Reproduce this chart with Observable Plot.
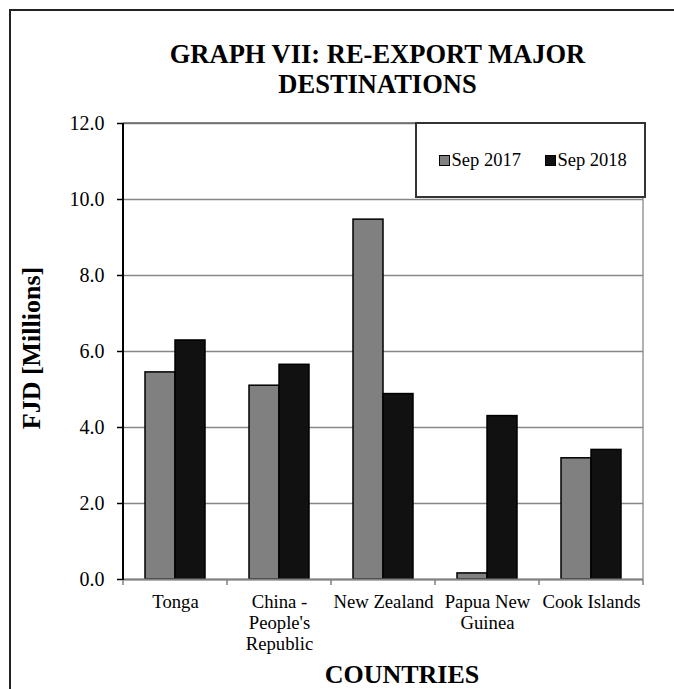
<!DOCTYPE html>
<html>
<head>
<meta charset="utf-8">
<script src="https://cdn.jsdelivr.net/npm/d3@7"></script>
<script src="https://cdn.jsdelivr.net/npm/@observablehq/plot@0.6"></script>
<style>
  html, body { margin: 0; padding: 0; background: #fff; }
  #chart { position: relative; width: 674px; height: 689px; overflow: hidden;
           font-family: "Liberation Serif", "Times New Roman", serif; color: #000; }
  #frame { position: absolute; left: 9px; top: 9px; width: 720px; height: 720px;
           border: 2px solid #222; box-sizing: border-box; }
  #title { position: absolute; left: 80px; width: 595px; top: 38.5px; text-align: center;
           font-weight: bold; font-size: 26.5px; line-height: 30px; }
  #plot { position: absolute; left: 0; top: 0; }
  #legend { position: absolute; left: 415px; top: 122px; width: 231px; height: 76px;
            border: 2px solid #333; box-sizing: border-box; background: #fff;
            display: flex; align-items: center; padding-left: 22px; font-size: 18.5px; }
  .item { display: flex; align-items: center; }
  .item + .item { margin-left: 24px; }
  .sw { width: 9px; height: 9px; border: 1.5px solid #000; margin-right: 1.5px; }
</style>
</head>
<body>
<div id="chart">
  <div id="frame"></div>
  <div id="title">GRAPH VII: RE-EXPORT MAJOR<br>DESTINATIONS</div>
  <div id="plot"></div>
  <div id="legend"></div>
</div>
<script>
// Re-export destinations, FJD millions
const countries = ["Tonga", "China - People's Republic", "New Zealand", "Papua New Guinea", "Cook Islands"];
const countryLabels = ["Tonga", "China -\nPeople's\nRepublic", "New Zealand", "Papua New\nGuinea", "Cook Islands"];
const periods = ["Sep 2017", "Sep 2018"];
const sep2017 = [5.45, 5.10, 9.47, 0.16, 3.19];
const sep2018 = [6.29, 5.65, 4.88, 4.30, 3.41];
const periodColors = ["#808080", "#111111"];
const yTicks = [0, 2, 4, 6, 8, 10, 12];

const rows = countries.flatMap((c, i) => [
  {country: c, period: periods[0], value: sep2017[i]},
  {country: c, period: periods[1], value: sep2018[i]}
]);
const labelOf = new Map(countries.map((c, i) => [c, countryLabels[i]]));

const W = 674, H = 689;
const chart = Plot.plot({
  width: W,
  height: H,
  marginTop: 123,
  marginBottom: 110,
  marginLeft: 121,
  marginRight: 29.5,
  style: {fontFamily: "'Liberation Serif', 'Times New Roman', serif", background: "transparent", color: "#000"},
  fx: {domain: countries, padding: 0, label: null},
  x: {domain: periods, paddingInner: 0, paddingOuter: 0.69, axis: null},
  y: {domain: [0, 12], label: null},
  color: {domain: periods, range: periodColors},
  marks: [
    Plot.gridY(yTicks, {stroke: "#878787", strokeOpacity: 1, strokeWidth: 1.3}),
    Plot.barY(rows, {fx: "country", x: "period", y: "value", fill: "period", stroke: "#000", strokeWidth: 1.5}),
    Plot.ruleY([0], {stroke: "#808080", strokeWidth: 2}),
    Plot.axisY(yTicks, {tickFormat: d3.format(".1f"), tickSize: 6, tickPadding: 13,
                        label: null, stroke: "#000", strokeWidth: 1.5, fill: "#000"}),
    Plot.axisFx({anchor: "bottom", tickSize: 0, tickPadding: 14, lineHeight: 1.12, label: null,
                 fill: "#000", tickFormat: d => labelOf.get(d)})
  ]
});
document.getElementById("plot").appendChild(chart);

const svg = d3.select(chart);
// Tick label sizes
svg.selectAll('g[aria-label="y-axis tick label"]').attr("font-size", 20);
svg.selectAll('g[aria-label="fx-axis tick label"]').attr("font-size", 18.7);

// Plot-area edges, category boundary ticks and axis titles
const fx = chart.scale("fx");
const y = chart.scale("y");
const y0 = y.apply(0), y12 = y.apply(12);
const left = fx.apply(countries[0]);
const right = fx.apply(countries[countries.length - 1]) + fx.bandwidth;
const bounds = countries.map(c => fx.apply(c)).concat([right]);

const deco = svg.append("g");
deco.append("line").attr("x1", left).attr("x2", right).attr("y1", y12).attr("y2", y12)
  .attr("stroke", "#666").attr("stroke-width", 1.5);
deco.append("line").attr("x1", right).attr("x2", right).attr("y1", y12).attr("y2", y0)
  .attr("stroke", "#888").attr("stroke-width", 1.3);
deco.selectAll(".bt").data(bounds).join("line")
  .attr("x1", d => d).attr("x2", d => d).attr("y1", y0).attr("y2", y0 + 6)
  .attr("stroke", "#808080").attr("stroke-width", 1.5);
deco.append("line").attr("x1", left).attr("x2", left).attr("y1", y12).attr("y2", y0 + 1)
  .attr("stroke", "#000").attr("stroke-width", 2);

deco.append("text")
  .attr("transform", `translate(40,${(y0 + y12) / 2 - 3}) rotate(-90)`)
  .attr("text-anchor", "middle")
  .attr("font-weight", "bold").attr("font-size", 26)
  .attr("fill", "#000")
  .text("FJD [Millions]");
deco.append("text")
  .attr("x", 402).attr("y", 683)
  .attr("text-anchor", "middle")
  .attr("font-weight", "bold").attr("font-size", 26)
  .attr("fill", "#000")
  .text("COUNTRIES");

// Legend
const legend = d3.select("#legend");
periods.forEach((p, i) => {
  const item = legend.append("div").attr("class", "item");
  item.append("div").attr("class", "sw").style("background", periodColors[i]);
  item.append("span").text(p);
});
</script>
</body>
</html>
